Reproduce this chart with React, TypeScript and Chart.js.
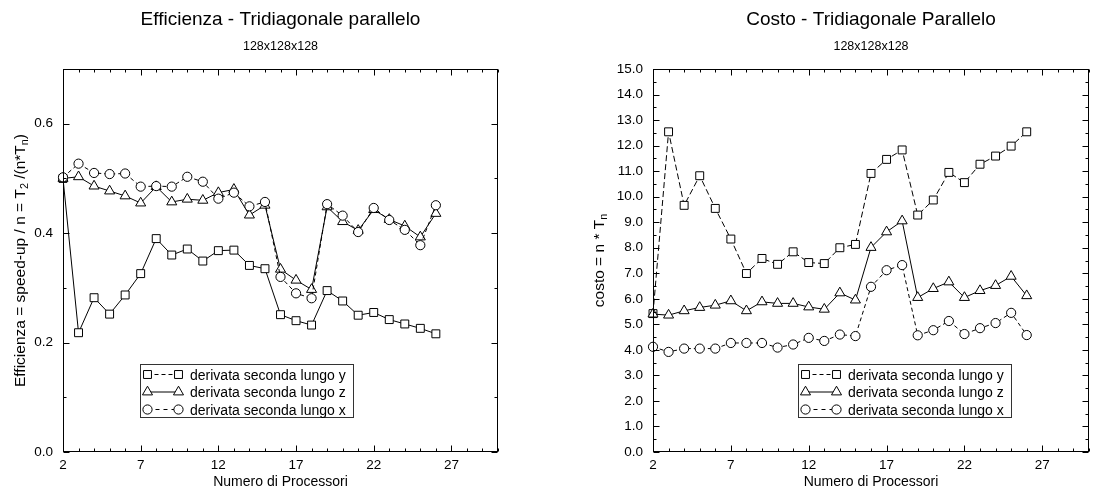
import React, { useEffect, useRef } from "react";
import { Chart, registerables } from "chart.js";

Chart.register(...registerables);

const FONT = '"Liberation Sans", Arial, Helvetica, sans-serif';

// ---------- data ----------
const processors = [2, 3, 4, 5, 6, 7, 8, 9, 10, 11, 12, 13, 14, 15, 16, 17, 18, 19, 20, 21, 22, 23, 24, 25, 26];

// Efficienza (left chart)
const effY = [0.5, 0.218, 0.282, 0.252, 0.287, 0.326, 0.39, 0.36, 0.371, 0.349, 0.368, 0.369, 0.341, 0.335, 0.251, 0.24, 0.232, 0.295, 0.276, 0.25, 0.255, 0.242, 0.234, 0.226, 0.216];
const effZ = [0.5, 0.503, 0.486, 0.477, 0.468, 0.455, 0.485, 0.457, 0.462, 0.46, 0.474, 0.48, 0.433, 0.451, 0.334, 0.314, 0.297, 0.448, 0.421, 0.405, 0.443, 0.425, 0.413, 0.393, 0.436];
const effX = [0.502, 0.527, 0.51, 0.508, 0.509, 0.485, 0.486, 0.485, 0.503, 0.494, 0.463, 0.474, 0.449, 0.457, 0.32, 0.29, 0.281, 0.453, 0.432, 0.402, 0.446, 0.424, 0.406, 0.378, 0.451];

// Costo (right chart)
const costY = [5.42, 12.54, 9.66, 10.82, 9.54, 8.34, 6.99, 7.58, 7.35, 7.84, 7.42, 7.38, 8.0, 8.13, 10.91, 11.46, 11.83, 9.28, 9.87, 10.95, 10.55, 11.27, 11.59, 11.98, 12.54];
const costZ = [5.4, 5.36, 5.53, 5.66, 5.75, 5.92, 5.53, 5.88, 5.82, 5.82, 5.68, 5.59, 6.23, 5.95, 8.01, 8.62, 9.05, 6.05, 6.4, 6.66, 6.05, 6.32, 6.52, 6.88, 6.12];
const costX = [4.12, 3.92, 4.05, 4.05, 4.05, 4.27, 4.27, 4.27, 4.09, 4.21, 4.47, 4.35, 4.6, 4.54, 6.47, 7.12, 7.32, 4.57, 4.77, 5.13, 4.62, 4.85, 5.05, 5.45, 4.58];

const xTickValues = [2, 7, 12, 17, 22, 27];
const effTickValues = [0, 0.2, 0.4, 0.6];
const costTickValues = [0, 1, 2, 3, 4, 5, 6, 7, 8, 9, 10, 11, 12, 13, 14, 15];

const seriesLabels = ["derivata seconda lungo y", "derivata seconda lungo z", "derivata seconda lungo x"];

const effTitle = "Efficienza - Tridiagonale parallelo";
const costTitle = "Costo - Tridiagonale Parallelo";
const subTitle = "128x128x128";
const xTitle = "Numero di Processori";
const effYTitle = [
  { t: "Efficienza = speed-up / n = T" },
  { t: "2", sub: true },
  { t: " /(n*T" },
  { t: "n", sub: true },
  { t: ")" },
];
const costYTitle = [{ t: "costo = n * T" }, { t: "n", sub: true }];

// ---------- styles ----------
const markerStyles = [
  { pointStyle: "rect", radius: 5.6 },
  { pointStyle: "triangle", radius: 5.8 },
  { pointStyle: "circle", radius: 4.6 },
];

type Piece = { t: string; sub?: boolean };

function drawRich(ctx: CanvasRenderingContext2D, pieces: Piece[], x: number, y: number, size: number, rotate: boolean) {
  ctx.save();
  ctx.translate(x, y);
  if (rotate) ctx.rotate(-Math.PI / 2);
  const f = (s: number) => `${s}px ${FONT}`;
  let total = 0;
  const widths = pieces.map((p) => {
    ctx.font = f(p.sub ? size * 0.7 : size);
    const w = ctx.measureText(p.t).width;
    total += w;
    return w;
  });
  let cx = -total / 2;
  const base = size * 0.36;
  ctx.fillStyle = "#000";
  ctx.textAlign = "left";
  ctx.textBaseline = "alphabetic";
  pieces.forEach((p, i) => {
    ctx.font = f(p.sub ? size * 0.7 : size);
    ctx.fillText(p.t, cx, p.sub ? base + size * 0.25 : base);
    cx += widths[i];
  });
  ctx.restore();
}

function drawMarker(ctx: CanvasRenderingContext2D, style: string, r: number, x: number, y: number) {
  ctx.beginPath();
  if (style === "rect") {
    const h = Math.SQRT1_2 * r;
    ctx.rect(x - h, y - h, 2 * h, 2 * h);
  } else if (style === "triangle") {
    ctx.moveTo(x, y - r);
    ctx.lineTo(x + 0.866 * r, y + 0.5 * r);
    ctx.lineTo(x - 0.866 * r, y + 0.5 * r);
    ctx.closePath();
  } else {
    ctx.arc(x, y, r, 0, Math.PI * 2);
  }
  ctx.fillStyle = "#fff";
  ctx.fill();
  ctx.setLineDash([]);
  ctx.strokeStyle = "#000";
  ctx.lineWidth = 1;
  ctx.stroke();
}

type ChartProps = {
  width: number;
  height: number;
  values: number[][];
  dashes: number[][];
  legendDashes: number[][];
  yMax: number;
  yTicks: number[];
  yMinorStep: number;
  yTitle: Piece[];
  yTitleX: number;
  title: string;
  yAxisWidth: number;
  padRight: number;
  legendBox: { x: number; y: number; w: number; h: number };
};

function PlotChart(props: ChartProps) {
  const ref = useRef<HTMLCanvasElement>(null);
  useEffect(() => {
    const p = props;
    const framePlugin = {
      id: "frameTicks",
      afterDatasetsDraw(chart: any) {
        const { ctx, chartArea: a, scales } = chart;
        const xs = scales.x;
        const ys = scales.y;
        ctx.save();
        ctx.setLineDash([]);
        ctx.strokeStyle = "#000";
        ctx.lineWidth = 1;
        const L = Math.round(a.left) + 0.5;
        const R = Math.round(a.right) - 0.5;
        const T = Math.round(a.top) + 0.5;
        const B = Math.round(a.bottom) - 0.5;
        ctx.strokeRect(L, T, R - L, B - T);
        ctx.beginPath();
        for (let v = 2; v <= 30; v += 1) {
          const px = Math.round(xs.getPixelForValue(v)) + 0.5;
          const len = xTickValues.includes(v) ? 6 : 3;
          ctx.moveTo(px, B);
          ctx.lineTo(px, B - len);
          ctx.moveTo(px, T);
          ctx.lineTo(px, T + len);
        }
        const n = Math.round(p.yMax / p.yMinorStep);
        for (let i = 0; i <= n; i++) {
          const v = i * p.yMinorStep;
          const py = Math.round(ys.getPixelForValue(v)) + 0.5;
          const major = p.yTicks.some((t) => Math.abs(t - v) < 1e-6);
          const len = major ? 6 : 3;
          ctx.moveTo(L, py);
          ctx.lineTo(L + len, py);
          ctx.moveTo(R, py);
          ctx.lineTo(R - len, py);
        }
        ctx.stroke();
        ctx.restore();
      },
    };
    const textPlugin = {
      id: "texts",
      afterDraw(chart: any) {
        const { ctx, chartArea: a } = chart;
        ctx.save();
        ctx.fillStyle = "#000";
        ctx.textAlign = "center";
        ctx.textBaseline = "alphabetic";
        const cx = (a.left + a.right) / 2;
        ctx.font = `19px ${FONT}`;
        ctx.fillText(p.title, cx, 25);
        ctx.font = `12.5px ${FONT}`;
        ctx.fillText(subTitle, cx, 50);
        ctx.restore();
        drawRich(ctx, p.yTitle, p.yTitleX, (a.top + a.bottom) / 2, 15.5, true);
      },
    };
    const legendPlugin = {
      id: "customLegend",
      afterDraw(chart: any) {
        const { ctx } = chart;
        const b = p.legendBox;
        ctx.save();
        ctx.fillStyle = "#fff";
        ctx.fillRect(b.x, b.y, b.w, b.h);
        ctx.strokeStyle = "#333";
        ctx.lineWidth = 1;
        ctx.setLineDash([]);
        ctx.strokeRect(b.x + 0.5, b.y + 0.5, b.w, b.h);
        seriesLabels.forEach((label, i) => {
          const ry = b.y + 10.5 + i * 17.5;
          const x1 = b.x + 7.5;
          const x2 = b.x + 38.5;
          ctx.beginPath();
          ctx.setLineDash(p.legendDashes[i]);
          ctx.strokeStyle = "#000";
          ctx.moveTo(x1, ry);
          ctx.lineTo(x2, ry);
          ctx.stroke();
          drawMarker(ctx, markerStyles[i].pointStyle, markerStyles[i].radius, x1, ry);
          drawMarker(ctx, markerStyles[i].pointStyle, markerStyles[i].radius, x2, ry);
          ctx.fillStyle = "#000";
          ctx.font = `14px ${FONT}`;
          ctx.textAlign = "left";
          ctx.textBaseline = "alphabetic";
          ctx.fillText(label, b.x + 50, ry + 5);
        });
        ctx.restore();
      },
    };

    const chart = new Chart(ref.current as HTMLCanvasElement, {
      type: "line",
      data: {
        datasets: p.values.map((vals, i) => ({
          label: seriesLabels[i],
          data: vals.map((v, j) => ({ x: processors[j], y: v })),
          borderColor: "#000",
          borderWidth: 1,
          borderDash: p.dashes[i],
          pointStyle: markerStyles[i].pointStyle as any,
          pointRadius: markerStyles[i].radius,
          pointHoverRadius: markerStyles[i].radius,
          pointBackgroundColor: "#fff",
          pointBorderColor: "#000",
          pointBorderWidth: 1,
          fill: false,
          tension: 0,
          clip: false as any,
          order: 2 - i,
        })),
      },
      options: {
        responsive: false,
        animation: false,
        devicePixelRatio: 1,
        events: [],
        layout: { padding: { top: 69, right: p.padRight, left: 0, bottom: 0 } },
        plugins: {
          legend: { display: false },
          tooltip: { enabled: false },
          title: { display: false },
        },
        scales: {
          x: {
            type: "linear",
            min: 2,
            max: 30,
            grid: { display: false, drawTicks: false },
            border: { display: false },
            afterBuildTicks: (s: any) => {
              s.ticks = xTickValues.map((v) => ({ value: v }));
            },
            afterFit: (s: any) => {
              s.height = 41;
            },
            ticks: {
              autoSkip: false,
              maxRotation: 0,
              padding: 5,
              color: "#000",
              font: { family: FONT, size: 13.5 },
              callback: (v: any) => String(v),
            },
            title: {
              display: true,
              text: xTitle,
              color: "#000",
              font: { family: FONT, size: 14 },
              padding: { top: 0, bottom: 2 },
            },
          },
          y: {
            type: "linear",
            min: 0,
            max: p.yMax,
            grid: { display: false, drawTicks: false },
            border: { display: false },
            afterBuildTicks: (s: any) => {
              s.ticks = p.yTicks.map((v) => ({ value: v }));
            },
            afterFit: (s: any) => {
              s.width = p.yAxisWidth;
            },
            ticks: {
              autoSkip: false,
              padding: 10,
              color: "#000",
              font: { family: FONT, size: 13.5 },
              callback: (v: any) => Number(v).toFixed(1),
            },
          },
        },
      } as any,
      plugins: [framePlugin, textPlugin, legendPlugin],
    });
    return () => chart.destroy();
  }, []);
  return (
    <canvas
      ref={ref}
      width={props.width}
      height={props.height}
      style={{ display: "block", width: props.width, height: props.height }}
    />
  );
}

export default function App() {
  return (
    <div
      style={{
        position: "absolute",
        left: 0,
        top: 0,
        width: 1101,
        height: 493,
        display: "flex",
        background: "#fff",
      }}
    >
      <PlotChart
        width={550}
        height={493}
        values={[effY, effZ, effX]}
        dashes={[[], [], [4, 3]]}
        legendDashes={[[4, 3], [], [4, 4]]}
        yMax={0.7}
        yTicks={effTickValues}
        yMinorStep={0.1}
        yTitle={effYTitle}
        yTitleX={19}
        title={effTitle}
        yAxisWidth={63}
        padRight={52}
        legendBox={{ x: 140, y: 364, w: 213, h: 53 }}
      />
      <PlotChart
        width={551}
        height={493}
        values={[costY, costZ, costX]}
        dashes={[[6, 3], [], [4, 3]]}
        legendDashes={[[4, 3], [], [4, 4]]}
        yMax={15}
        yTicks={costTickValues}
        yMinorStep={0.5}
        yTitle={costYTitle}
        yTitleX={48}
        title={costTitle}
        yAxisWidth={103}
        padRight={12}
        legendBox={{ x: 248, y: 364, w: 213, h: 53 }}
      />
    </div>
  );
}
